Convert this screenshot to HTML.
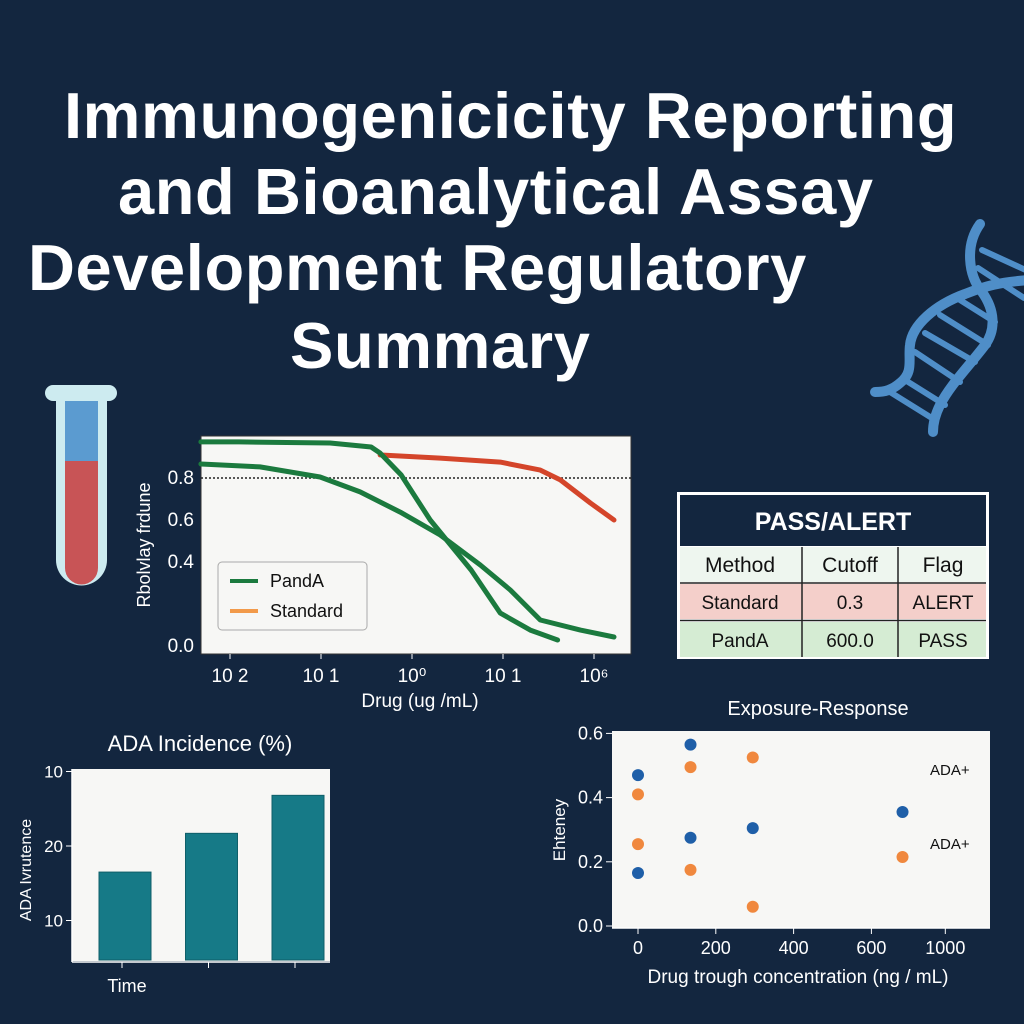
<!DOCTYPE html>
<html><head><meta charset="utf-8"><style>
html,body{margin:0;padding:0;background:#13263f;}
body{width:1024px;height:1024px;overflow:hidden;position:relative;font-family:"Liberation Sans","DejaVu Sans",sans-serif;}
.t{position:absolute;color:#fff;font-weight:bold;font-size:65px;white-space:nowrap;letter-spacing:0.6px;}
svg text{font-family:"Liberation Sans","DejaVu Sans",sans-serif;}
</style></head><body>
<div class="t" style="left:64px;top:78px;">Immunogenicicity Reporting</div>
<div class="t" style="left:118px;top:154px;">and Bioanalytical Assay</div>
<div class="t" style="left:28px;top:230px;">Development Regulatory</div>
<div class="t" style="left:290px;top:308px;">Summary</div>

<svg id="s" width="1024" height="1024" style="position:absolute;left:0;top:0" xmlns="http://www.w3.org/2000/svg">
<g>
<rect x="45" y="385" width="72" height="16" rx="8" fill="#cdebf0"/>
<path d="M56 395 V560 a25.5 25.5 0 0 0 51 0 V395 Z" fill="#cdebf0"/>
<rect x="65" y="401" width="33" height="60" fill="#5b9bd0"/>
<path d="M65 461 H98 V568 a16.5 16.5 0 0 1 -33 0 Z" fill="#c85456"/>
</g>
<g fill="none" stroke="#4f8ec8" stroke-width="10" stroke-linecap="round">
<path d="M980 224 C965 245 968 275 982 292 C995 310 996 330 985 345 C970 365 950 385 940 405 C935 415 933 425 933 432"/>
<path d="M1030 280 C1000 282 985 286 965 294 C935 305 912 325 910 345 C908 360 914 372 900 383 C892 390 885 392 875 392"/>
<path d="M982 250 L1030 272 M978 268 L1024 298 M960 300 L995 322 M940 315 L988 345 M925 333 L975 362 M915 352 L960 382 M905 380 L945 405 M890 392 L935 420" stroke-width="6"/>
</g>
<g id="line-chart"></g>
<g id="table"></g>
<g id="bar-chart"></g>
<g id="scatter-chart"></g>
</svg>
<script>
// ===== Line chart data =====
const lcTickLabels = ['10 2','10 1','10\u2070','10 1','10\u2076'];
const lcYTicks = [0.0,0.4,0.6,0.8];
const pandaAX = [-0.32,0.1,1.1,1.55,1.65,1.88,2.2,2.65,2.97,3.3,3.6];
const pandaAY = [0.967,0.967,0.962,0.943,0.914,0.81,0.595,0.357,0.152,0.071,0.024];
const pandaBX = [-0.32,0.33,0.99,1.43,1.87,2.31,2.75,3.08,3.41,3.85,4.22];
const pandaBY = [0.862,0.848,0.8,0.729,0.633,0.524,0.381,0.262,0.119,0.071,0.038];
const stdX = [1.65,2.31,2.97,3.41,3.63,3.96,4.22];
const stdY = [0.905,0.89,0.871,0.833,0.786,0.676,0.595];
const cutoff = 0.795;
// ===== Bar chart data =====
const barCats = ['Time','',''];
const barVals = [16.5,21.7,26.8];
const barTickVals = [10,20,30];
const barTickLabels = ['10','20','10'];
// ===== Scatter data =====
const blueX = [0,135,0,135,295,680];
const blueY = [0.47,0.565,0.165,0.275,0.305,0.355];
const orangeX = [0,0,135,135,295,295,680];
const orangeY = [0.41,0.255,0.495,0.175,0.525,0.06,0.215];
const scXTickVals = [0,200,400,600,790];
const scXTickLabels = ['0','200','400','600','1000'];
const scYTicks = [0.0,0.2,0.4,0.6];

const NS='http://www.w3.org/2000/svg';
function mk(parent,tag,attrs,text){const e=document.createElementNS(NS,tag);for(const k in attrs)e.setAttribute(k,attrs[k]);if(text!==undefined)e.textContent=text;parent.appendChild(e);return e;}

// Line chart
(function(){
const g=document.getElementById('line-chart');
const xs=i=>230+i*91, ys=v=>645-v*210;
const bg=mk(g,'rect',{x:201,y:436,width:430,height:218,fill:'#f7f7f5',stroke:'#333','stroke-width':1});

lcTickLabels.forEach((l,i)=>{
 mk(g,'line',{x1:xs(i),x2:xs(i),y1:654,y2:659,stroke:'#fff'});
 const t=mk(g,'text',{x:xs(i),y:682,fill:'#fff','font-size':19,'text-anchor':'middle'},l);
 
});
lcYTicks.forEach(v=>{
 const t=mk(g,'text',{x:194,y:ys(v)+7,fill:'#fff','font-size':19,'text-anchor':'end'},v.toFixed(1));
 
});
const cl=mk(g,'line',{x1:201,x2:631,y1:ys(cutoff),y2:ys(cutoff),stroke:'#222','stroke-width':1.5,'stroke-dasharray':'2 2'});

function path(X,Y,c,name){const d=X.map((x,i)=>(i?'L':'M')+xs(x).toFixed(1)+' '+ys(Y[i]).toFixed(1)).join(' ');
 const p=mk(g,'path',{d:d,fill:'none',stroke:c,'stroke-width':5,'stroke-linejoin':'round','stroke-linecap':'round'});
 }
path(stdX,stdY,'#d4452a','standard-curve');
path(pandaAX,pandaAY,'#1b7a3e','panda-curve-a');
path(pandaBX,pandaBY,'#1b7a3e','panda-curve-b');
const lg=mk(g,'g',{});
mk(lg,'rect',{x:218,y:562,width:149,height:68,rx:4,fill:'#f7f7f5',stroke:'#aaa'});
mk(lg,'line',{x1:230,x2:258,y1:581,y2:581,stroke:'#1b7a3e','stroke-width':4});
mk(lg,'text',{x:270,y:587,'font-size':18,fill:'#111'},'PandA');
mk(lg,'line',{x1:230,x2:258,y1:611,y2:611,stroke:'#f29a4a','stroke-width':4});
mk(lg,'text',{x:270,y:617,'font-size':18,fill:'#111'},'Standard');
const xt=mk(g,'text',{x:420,y:707,fill:'#fff','font-size':19,'text-anchor':'middle'},'Drug (ug /mL)');

const yt=mk(g,'text',{x:150,y:545,fill:'#fff','font-size':18,'text-anchor':'middle',transform:'rotate(-90 150 545)'},'Rbolvlay frdune');

})();

// Table
(function(){
const g=document.getElementById('table');
mk(g,'rect',{x:677,y:492,width:312,height:167,fill:'#fff'});
mk(g,'rect',{x:680,y:495,width:306,height:51,fill:'#13263f'});
mk(g,'text',{x:833,y:530,fill:'#fff','font-size':25,'font-weight':'bold','text-anchor':'middle'},'PASS/ALERT');
const rows=[['Method','Cutoff','Flag','#eef6ef',547],['Standard','0.3','ALERT','#f4cfca',584],['PandA','600.0','PASS','#d5ecd3',622]];
const cx=[740,850,943];
rows.forEach(r=>{
 const rr=mk(g,'g',{});
 mk(rr,'rect',{x:680,y:r[4],width:306,height:35,fill:r[3]});
 for(let i=0;i<3;i++)mk(rr,'text',{x:cx[i],y:r[4]+25,'font-size':r[4]===547?21:19,fill:'#111','text-anchor':'middle'},r[i]);
});
mk(g,'line',{x1:680,x2:986,y1:583,y2:583,stroke:'#222','stroke-width':1.5});
mk(g,'line',{x1:680,x2:986,y1:620.5,y2:620.5,stroke:'#222','stroke-width':1.5});
mk(g,'line',{x1:802,x2:802,y1:547,y2:657,stroke:'#222','stroke-width':1.5});
mk(g,'line',{x1:898,x2:898,y1:547,y2:657,stroke:'#222','stroke-width':1.5});
})();

// Bar chart
(function(){
const g=document.getElementById('bar-chart');
const ys=v=>995-v*7.45, xs=i=>125+i*86.5;
mk(g,'rect',{x:72,y:769,width:258,height:192,fill:'#f7f7f5'});
mk(g,'line',{x1:72,x2:330,y1:962,y2:962,stroke:'#fff','stroke-width':1.5});
mk(g,'line',{x1:72,x2:72,y1:769,y2:962,stroke:'#fff','stroke-width':1.5});
const tt=mk(g,'text',{x:200,y:751,fill:'#fff','font-size':22,'text-anchor':'middle'},'ADA Incidence (%)');

barTickVals.forEach((v,i)=>{
 mk(g,'line',{x1:66,x2:72,y1:ys(v),y2:ys(v),stroke:'#fff'});
 const t=mk(g,'text',{x:63,y:ys(v)+6,fill:'#fff','font-size':17,'text-anchor':'end'},barTickLabels[i]);
 
});
barVals.forEach((v,i)=>{
 const r=mk(g,'rect',{x:xs(i)-26,y:ys(v),width:52,height:960-ys(v),fill:'#167a87',stroke:'#0f5f69'});
 
 mk(g,'line',{x1:xs(i)-3,x2:xs(i)-3,y1:962,y2:968,stroke:'#fff'});
 if(barCats[i])mk(g,'text',{x:127,y:992,fill:'#fff','font-size':18,'text-anchor':'middle'},barCats[i]);
});
const yt=mk(g,'text',{x:31,y:870,fill:'#fff','font-size':16,'text-anchor':'middle',transform:'rotate(-90 31 870)'},'ADA Ivrutence');

})();

// Scatter
(function(){
const g=document.getElementById('scatter-chart');
const xs=v=>638+v*0.389, ys=v=>926-v*321;
mk(g,'rect',{x:612,y:731,width:378,height:197,fill:'#f7f7f5'});
mk(g,'line',{x1:612,x2:990,y1:928,y2:928,stroke:'#fff','stroke-width':1.5});
const tt=mk(g,'text',{x:818,y:715,fill:'#fff','font-size':20,'text-anchor':'middle'},'Exposure-Response');

scYTicks.forEach(v=>{
 mk(g,'line',{x1:606,x2:612,y1:ys(v),y2:ys(v),stroke:'#fff'});
 const t=mk(g,'text',{x:603,y:ys(v)+6,fill:'#fff','font-size':18,'text-anchor':'end'},v.toFixed(1));
 
});
scXTickVals.forEach((v,i)=>{
 mk(g,'line',{x1:xs(v),x2:xs(v),y1:928,y2:934,stroke:'#fff'});
 const t=mk(g,'text',{x:xs(v),y:954,fill:'#fff','font-size':18,'text-anchor':'middle'},scXTickLabels[i]);
 
});
blueX.forEach((x,i)=>{const c=mk(g,'circle',{cx:xs(x),cy:ys(blueY[i]),r:6,fill:'#1f5fa8'});
 });
orangeX.forEach((x,i)=>{const c=mk(g,'circle',{cx:xs(x),cy:ys(orangeY[i]),r:6,fill:'#f0883e'});
 });
mk(g,'text',{x:930,y:775,'font-size':15,fill:'#111'},'ADA+');
mk(g,'text',{x:930,y:849,'font-size':15,fill:'#111'},'ADA+');
const xt=mk(g,'text',{x:798,y:983,fill:'#fff','font-size':19,'text-anchor':'middle'},'Drug trough concentration (ng / mL)');

const yt=mk(g,'text',{x:565,y:830,fill:'#fff','font-size':17,'text-anchor':'middle',transform:'rotate(-90 565 830)'},'Ehteney');

})();
</script>
</body></html>
